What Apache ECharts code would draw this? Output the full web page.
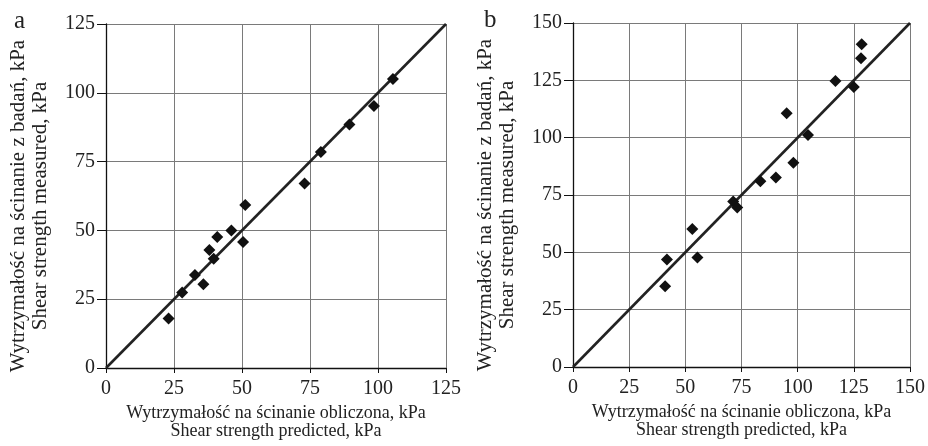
<!DOCTYPE html>
<html lang="pl">
<head>
  <meta charset="UTF-8">
  <title>Shear strength measured vs predicted</title>
  <script src="https://cdn.jsdelivr.net/npm/echarts@6/dist/echarts.min.js"></script>
  <style>
    html, body { margin: 0; padding: 0; background: #fff; }
    #main { width: 928px; height: 446px; }
  </style>
</head>
<body>
  <div id="main"></div>
  <script>
    // panel a: predicted (x) vs measured (y), kPa
    var predictedA = [23, 28, 32.7, 35.8, 38, 39.6, 40.9, 46.1, 50.4, 51.2, 73, 79, 89.5, 98.5, 105.5];
    var measuredA = [18, 27.4, 33.8, 30.4, 42.9, 39.7, 47.6, 50, 45.8, 59.2, 67, 78.5, 88.5, 95.2, 105];

    // panel b
    var predictedB = [41, 41.8, 53.1, 55.4, 71.3, 73.1, 83.4, 90.3, 95.1, 98.1, 104.6, 116.8, 125, 128.2, 128.5];
    var measuredB = [35.2, 46.9, 60.2, 47.8, 72.2, 69.6, 81, 82.6, 110.6, 89.1, 101.2, 124.7, 122.1, 134.6, 140.7];

    // axis ranges and the 1:1 line ends
    var maxA = 125;
    var maxB = 150;
    var lineA = [[0, 0], [maxA, maxA]];
    var lineB = [[0, 0], [maxB, maxB]];

    var xNameText = 'Wytrzymałość na ścinanie obliczona, kPa\nShear strength predicted, kPa';
    var yNameText = 'Wytrzymałość na ścinanie z badań, kPa\nShear strength measured, kPa';

    var font = 'Liberation Serif';
    var chart = echarts.init(document.getElementById('main'));

    function pairs(xs, ys) {
      return xs.map(function (x, i) { return [x, ys[i]]; });
    }

    function xAxisFor(gridIndex, max) {
      return {
        type: 'value', gridIndex: gridIndex, min: 0, max: max, interval: 25,
        name: xNameText, nameLocation: 'middle', nameGap: 35,
        nameTextStyle: { fontFamily: font, fontSize: 18, color: '#222', lineHeight: 18 },
        axisLine: { onZero: false, lineStyle: { color: '#111', width: 1.3 } },
        axisTick: { show: true, length: 5, lineStyle: { color: '#111' } },
        axisLabel: { fontFamily: font, fontSize: 20, color: '#222', margin: 11 },
        splitLine: { show: true, lineStyle: { color: '#7a7a7a', width: 1 } }
      };
    }

    function yAxisFor(gridIndex, max) {
      return {
        type: 'value', gridIndex: gridIndex, min: 0, max: max, interval: 25,
        name: yNameText, nameLocation: 'middle', nameGap: 55, nameRotate: 90,
        // right padding nudges the rotated name a little downwards
        nameTextStyle: { fontFamily: font, fontSize: 21, color: '#222', lineHeight: 22, padding: [0, 20, 0, 0] },
        axisLine: { onZero: false, lineStyle: { color: '#111', width: 1.3 } },
        axisTick: { show: true, length: 9, lineStyle: { color: '#111' } },
        axisLabel: { fontFamily: font, fontSize: 20, color: '#222', margin: 11 },
        splitLine: { show: true, lineStyle: { color: '#7a7a7a', width: 1 } }
      };
    }

    function scatterFor(idx, data) {
      return {
        type: 'scatter', xAxisIndex: idx, yAxisIndex: idx,
        symbol: 'diamond', symbolSize: 12, z: 3,
        itemStyle: { color: '#111', opacity: 1 },
        data: data
      };
    }

    function lineFor(idx, data) {
      return {
        type: 'line', xAxisIndex: idx, yAxisIndex: idx,
        symbol: 'none', z: 2,
        lineStyle: { color: '#222', width: 2.6 },
        data: data
      };
    }

    chart.setOption({
      animation: false,
      title: [
        { text: 'a', left: 9, top: 4, textStyle: { fontFamily: font, fontSize: 25, fontWeight: 'normal', color: '#222' } },
        { text: 'b', left: 479, top: 3, textStyle: { fontFamily: font, fontSize: 25, fontWeight: 'normal', color: '#222' } }
      ],
      grid: [
        { left: 106, top: 24, width: 340, height: 344 },
        { left: 573, top: 23, width: 340, height: 344 }
      ],
      xAxis: [xAxisFor(0, maxA), xAxisFor(1, maxB)],
      yAxis: [yAxisFor(0, maxA), yAxisFor(1, maxB)],
      series: [
        lineFor(0, lineA),
        scatterFor(0, pairs(predictedA, measuredA)),
        lineFor(1, lineB),
        scatterFor(1, pairs(predictedB, measuredB))
      ]
    });
  </script>
</body>
</html>
